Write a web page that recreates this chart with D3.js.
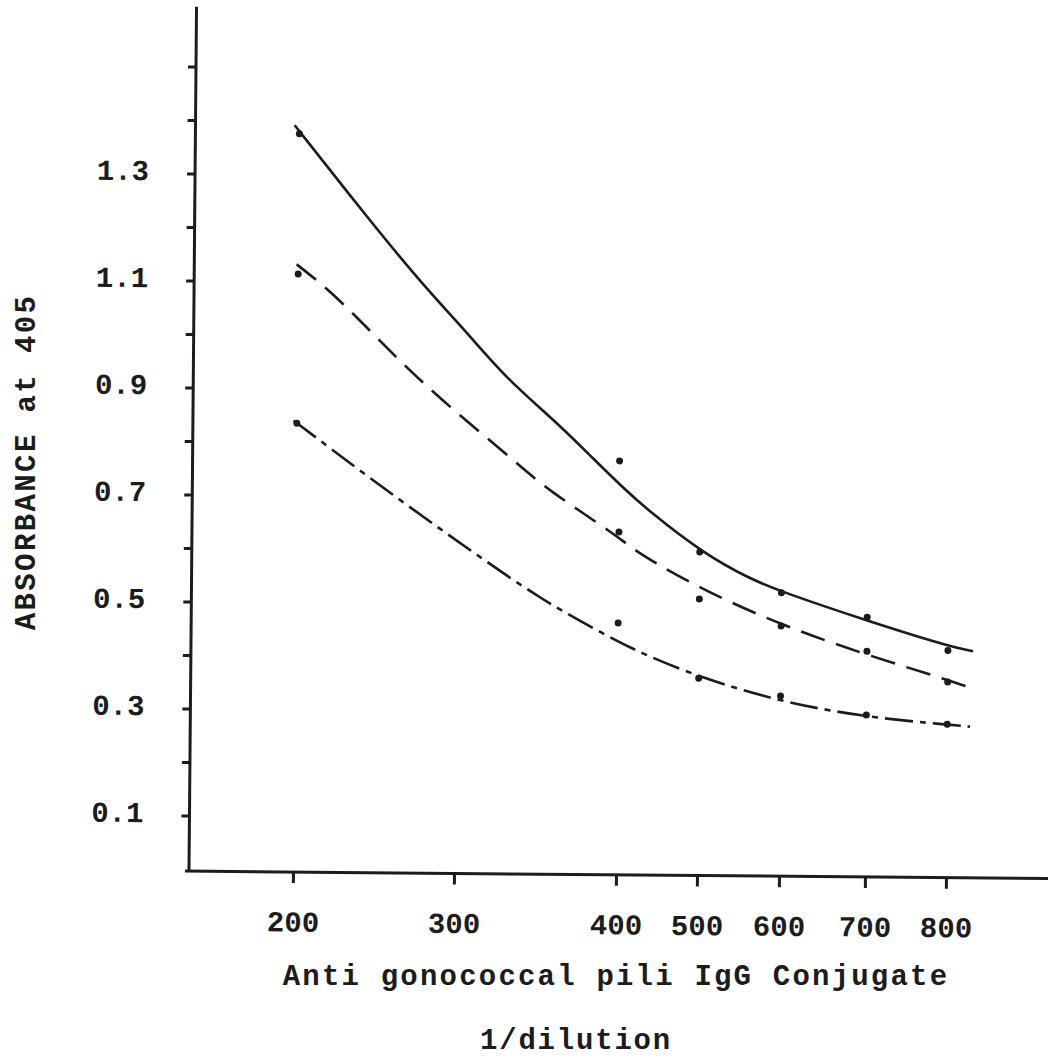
<!DOCTYPE html>
<meta charset="utf-8">
<script src="https://d3js.org/d3.v7.min.js"></script>
<style>
body { margin: 0; background: #fff; }
svg { display: block; background: #fff; }
text { font-family: "Liberation Mono", "Courier New", monospace; font-weight: bold; fill: #1c1c1c; }
.axis text { font-size: 29px; }
.axis line { stroke: #1c1c1c; stroke-width: 3px; }
.axis path { display: none; }
</style>
<body></body>
<script>

// tick labels on the x axis (the paper spaces them unevenly)
var dilutions = [200, 300, 400, 500, 600, 700, 800];
var yTicks = [0.1, 0.2, 0.3, 0.4, 0.5, 0.6, 0.7, 0.8, 0.9, 1.0, 1.1, 1.2, 1.3, 1.4, 1.5];
var yLabels = ["0.1", "0.3", "0.5", "0.7", "0.9", "1.1", "1.3"];

// measured points, one per dilution
var pointX = [200, 400, 500, 600, 700, 800];
var pointsSolid   = [1.376, 0.770, 0.601, 0.526, 0.482, 0.421];
var pointsDashed  = [1.114, 0.637, 0.513, 0.464, 0.418, 0.362];
var pointsDashDot = [0.835, 0.467, 0.365, 0.333, 0.299, 0.283];

// fitted curves
var curveSolidX   = [197, 245, 276, 307, 330, 361, 384, 403, 438, 504, 562, 602, 700, 805, 831];
var curveSolidY   = [1.392, 1.212, 1.101, 1.001, 0.921, 0.841, 0.773, 0.722, 0.675, 0.599, 0.551, 0.527, 0.475, 0.427, 0.420];
var curveDashedX  = [199, 224, 266, 300, 336, 355, 399, 422, 505, 603, 702, 805, 831];
var curveDashedY  = [1.132, 1.074, 0.944, 0.855, 0.766, 0.716, 0.630, 0.599, 0.529, 0.464, 0.410, 0.364, 0.350];
var curveDashDotX = [198, 227, 269, 310, 352, 393, 427, 504, 604, 700, 803, 828];
var curveDashDotY = [0.840, 0.775, 0.683, 0.597, 0.510, 0.443, 0.412, 0.365, 0.321, 0.295, 0.282, 0.279];

var width = 1048, height = 1059;

var svg = d3.select("body").append("svg")
    .attr("width", width)
    .attr("height", height);

// scales
var xScale = d3.scaleLinear()
  .domain(dilutions)
  .range([293, 454, 616, 697, 779, 865, 946]);

var yScale = d3.scaleLinear()
  .domain([0, 1.6])
  .range([870, 14]);

// the scanned page sits a little crooked
var plot = svg.append("g")
  .attr("transform", "rotate(0.5," + xScale.range()[0] + "," + yScale(0) + ")");

var x0 = 189;

// axes
var yAxis = d3.axisLeft(yScale)
  .tickValues(yTicks)
  .tickSize(8)
  .tickPadding(38)
  .tickFormat(function(d) { return yLabels.indexOf(d.toFixed(1)) > -1 ? d.toFixed(1) : ""; });

plot.append("g")
  .attr("class", "y axis")
  .attr("transform", "translate(" + x0 + ",0)")
  .call(yAxis)
  .selectAll("text").attr("dy", "0.22em");

var xAxis = d3.axisBottom(xScale)
  .tickValues(dilutions)
  .tickSize(11)
  .tickPadding(28)
  .tickFormat(d3.format("d"));

plot.append("g")
  .attr("class", "x axis")
  .attr("transform", "translate(0," + (yScale(0) + 2) + ")")
  .call(xAxis);

plot.append("line")
  .attr("x1", x0).attr("x2", x0)
  .attr("y1", yScale(0) + 3).attr("y2", yScale(1.612))
  .attr("stroke", "#1c1c1c").attr("stroke-width", 3);

plot.append("line")
  .attr("x1", x0 - 4).attr("x2", width + 10)
  .attr("y1", yScale(0) + 2).attr("y2", yScale(0) + 2)
  .attr("stroke", "#1c1c1c").attr("stroke-width", 3);

// curves
var line = d3.line()
  .x(function(d) { return xScale(d[0]); })
  .y(function(d) { return yScale(d[1]); })
  .curve(d3.curveBasis);

var curves = [
  {xs: curveSolidX, ys: curveSolidY, dash: null},
  {xs: curveDashedX, ys: curveDashedY, dash: "25,12"},
  {xs: curveDashDotX, ys: curveDashDotY, dash: "28,7,6,7"}
];

curves.forEach(function(c) {
  plot.append("path")
    .datum(d3.zip(c.xs, c.ys))
    .attr("d", line)
    .attr("fill", "none")
    .attr("stroke", "#1c1c1c")
    .attr("stroke-width", 2.6)
    .attr("stroke-dasharray", c.dash);
});

// points
[pointsSolid, pointsDashed, pointsDashDot].forEach(function(series) {
  plot.selectAll(null)
    .data(d3.zip(pointX, series)).enter().append("circle")
    .attr("cx", function(d) { return xScale(d[0]); })
    .attr("cy", function(d) { return yScale(d[1]); })
    .attr("r", 3.5)
    .style("fill", "#1c1c1c");
});

// titles
svg.append("text")
  .attr("x", 616)
  .attr("y", 985)
  .attr("text-anchor", "middle")
  .style("font-size", "29px")
  .style("letter-spacing", "2.2px")
  .text("Anti gonococcal pili IgG Conjugate");

svg.append("text")
  .attr("x", 576)
  .attr("y", 1049)
  .attr("text-anchor", "middle")
  .style("font-size", "29px")
  .style("letter-spacing", "1.8px")
  .text("1/dilution");

svg.append("text")
  .attr("transform", "translate(35,462) rotate(-90)")
  .attr("text-anchor", "middle")
  .style("font-size", "29px")
  .style("letter-spacing", "2.4px")
  .text("ABSORBANCE at 405");

</script>
